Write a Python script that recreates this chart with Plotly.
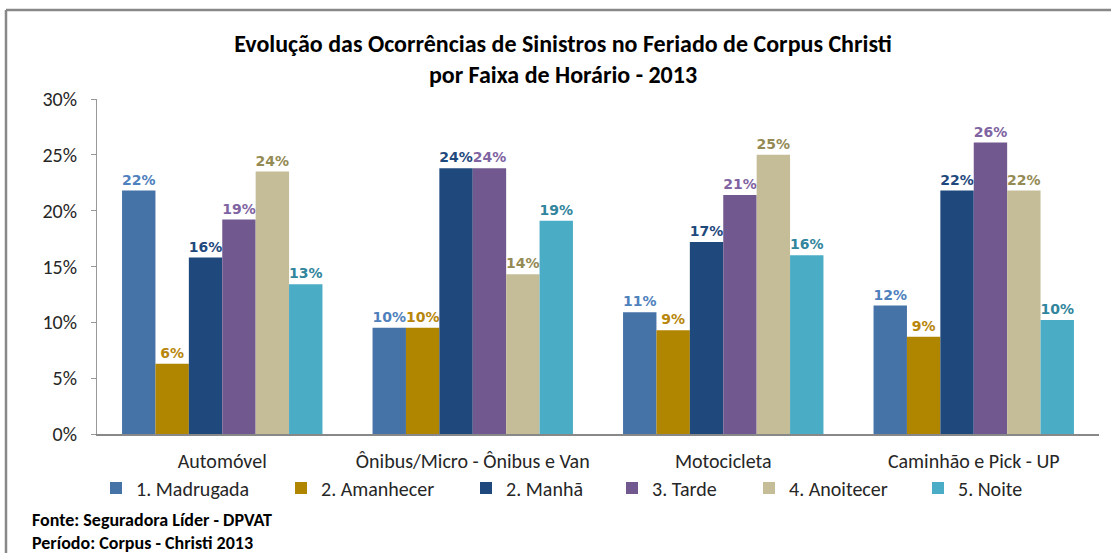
import plotly.graph_objects as go

categories = ["Automóvel", "Ônibus/Micro - Ônibus e Van", "Motocicleta", "Caminhão e Pick - UP"]
series_names = ["1. Madrugada", "2. Amanhecer", "2. Manhã", "3. Tarde", "4. Anoitecer", "5. Noite"]
madrugada = [21.8, 9.52, 10.9, 11.5]
amanhecer = [6.3, 9.52, 9.3, 8.7]
manha = [15.8, 23.8, 17.2, 21.8]
tarde = [19.2, 23.8, 21.4, 26.1]
anoitecer = [23.5, 14.3, 25.0, 21.8]
noite = [13.4, 19.1, 16.0, 10.2]
series_values = [madrugada, amanhecer, manha, tarde, anoitecer, noite]
bar_colors = ["#4572A7", "#B08500", "#1F497D", "#71588F", "#C4BD97", "#4BACC6"]
label_colors = ["#4F81BD", "#B8860B", "#1F497D", "#8064A2", "#948A54", "#31859C"]
y_ticks = [0, 5, 10, 15, 20, 25, 30]
y_tick_labels = ["0%", "5%", "10%", "15%", "20%", "25%", "30%"]

W, H = 1111, 553
ML, MR, MT, MB = 97, 12, 99, 119
PW, PH = W - ML - MR, H - MT - MB
FONT = "Calibri, Carlito, 'Open Sans', sans-serif"

def px_x(x):
    return (x - ML) / PW

def px_y(y):
    return (H - MB - y) / PH

# left pixel of each legend entry's text in the reference
legend_text_x = [133, 318, 503, 649, 786, 955]
legend_ids = ["legend", "legend2", "legend3", "legend4", "legend5", "legend6"]

fig = go.Figure()
for name, vals, bc, lc, lid in zip(series_names, series_values, bar_colors, label_colors, legend_ids):
    fig.add_trace(go.Bar(
        x=categories, y=vals, name=name, legend=lid,
        marker=dict(color=bc, line=dict(width=0)),
        texttemplate="%{y:.0f}%", textposition="outside",
        textfont=dict(family="DejaVu Sans, Verdana, sans-serif", size=14, color=lc, weight="bold"),
        constraintext="none", cliponaxis=False,
    ))

layout_legends = {}
for lid, tx in zip(legend_ids, legend_text_x):
    layout_legends[lid] = dict(
        xref="container", yref="container",
        x=(tx - 37) / W, xanchor="left",
        y=1 - 488 / H, yanchor="middle",
        font=dict(family=FONT, size=20, color="#262626"),
        bgcolor="rgba(0,0,0,0)", borderwidth=0,
    )

fig.update_layout(
    width=W, height=H,
    margin=dict(l=ML, r=MR, t=MT, b=MB, autoexpand=False),
    paper_bgcolor="white", plot_bgcolor="white",
    barmode="group", bargap=0.2, bargroupgap=0,
    font=dict(family=FONT, color="#262626"),
    title=dict(
        text="Evolução das Ocorrências de Sinistros no Feriado de Corpus Christi<br>por Faixa de Horário - 2013",
        x=563 / W, xanchor="center", xref="container",
        y=1 - 52 / H, yanchor="top", yref="container",
        font=dict(family=FONT, size=24, color="#000000", weight="bold"),
    ),
    showlegend=True,
    xaxis=dict(
        showline=True, linecolor="#888888", linewidth=1.5,
        ticks="", tickfont=dict(family=FONT, size=20, color="#262626"),
        showgrid=False, automargin=False, ticklabelstandoff=8,
    ),
    yaxis=dict(
        range=[0, 30], tickvals=y_ticks, ticktext=y_tick_labels,
        showline=True, linecolor="#999999", linewidth=1,
        ticks="outside", ticklen=5, tickcolor="#999999",
        tickfont=dict(family=FONT, size=20, color="#262626"), showgrid=False, zeroline=False,
        automargin=False, ticklabelstandoff=10,
    ),
    shapes=[
        dict(type="line", xref="paper", yref="paper", x0=px_x(6), x1=px_x(W + 5), y0=px_y(10), y1=px_y(10),
             line=dict(color="#888888", width=2.5)),
        dict(type="line", xref="paper", yref="paper", x0=px_x(6), x1=px_x(6), y0=px_y(10), y1=px_y(H + 5),
             line=dict(color="#888888", width=2.5)),
    ],
    annotations=[
        dict(text="<b>Fonte: Seguradora Líder - DPVAT</b>", xref="paper", yref="paper",
             x=px_x(30), y=px_y(520), xanchor="left", yanchor="middle", showarrow=False,
             font=dict(family=FONT, size=18, color="#000000")),
        dict(text="<b>Período: Corpus - Christi 2013</b>", xref="paper", yref="paper",
             x=px_x(30), y=px_y(543), xanchor="left", yanchor="middle", showarrow=False,
             font=dict(family=FONT, size=18, color="#000000")),
    ],
    **layout_legends,
)

fig.write_html(
    "out.html",
    config={"displayModeBar": False},
    post_script="document.body.style.margin='0';document.body.style.overflow='hidden';",
)
